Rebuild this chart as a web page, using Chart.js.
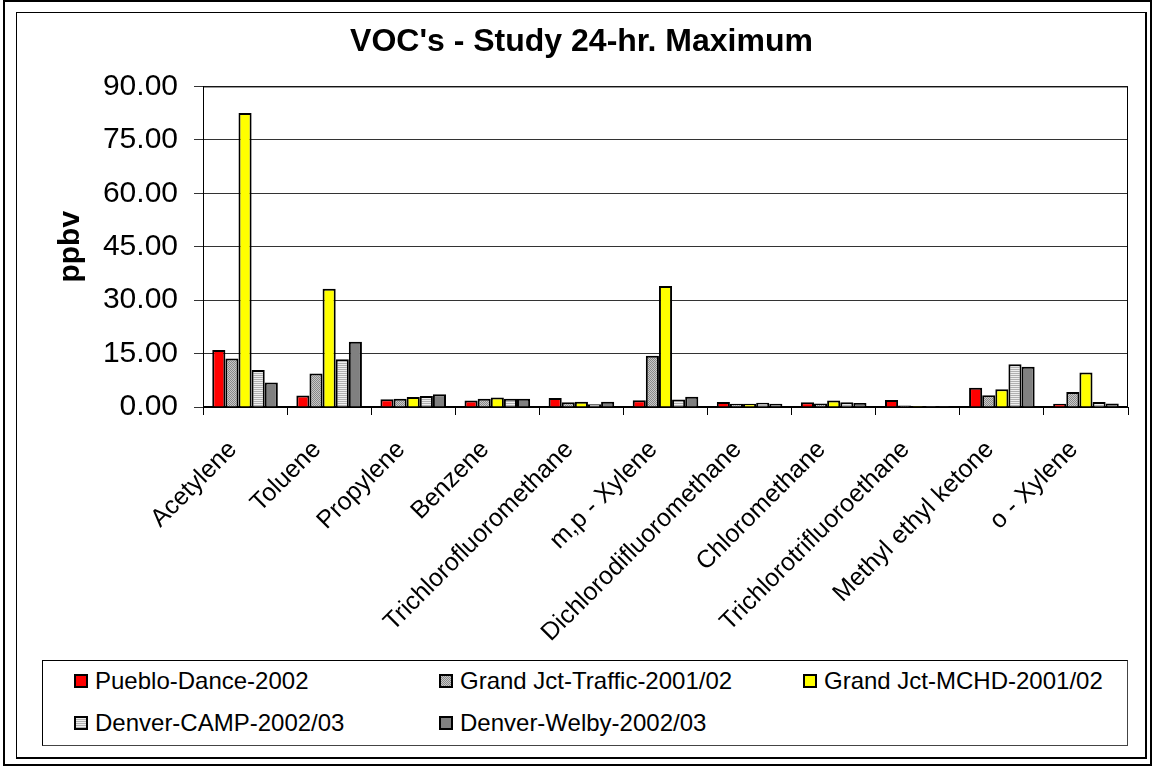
<!DOCTYPE html>
<html lang="en">
<head>
    <meta charset="UTF-8">
    <title>VOC's - Study 24-hr. Maximum</title>
    <script src="https://cdn.jsdelivr.net/npm/chart.js"></script>
    <style>
        body { margin: 0; background: #fff; font-family: Arial, "Liberation Sans", sans-serif; }
        #outer { position: absolute; left: 3px; top: 0; width: 1145px; height: 762px; border: 2px solid #000; }
        #inner { position: absolute; left: 16px; top: 12px; width: 1128px; height: 744px; border: 1px solid #000; border-right-width: 2px; border-bottom-width: 2px; }
        #vocChart { position: absolute; left: 0; top: 0; }
        #legend { position: absolute; left: 42px; top: 660px; width: 1084px; height: 84px; border: 1px solid #000; border-right-color: #444; border-bottom-color: #444; background: #fff; }
        .item { position: absolute; font-size: 24px; line-height: 26px; color: #000; white-space: nowrap; }
        .sw { position: absolute; width: 10px; height: 10px; border: 2px solid #000; }
    </style>
</head>
<body>
    <div id="outer"></div>
    <div id="inner"></div>
    <canvas id="vocChart" width="1153" height="767"></canvas>
    <div id="legend"></div>

    <script>
        // compounds on the x axis
        const compounds = ['Acetylene', 'Toluene', 'Propylene', 'Benzene', 'Trichlorofluoromethane',
            'm,p - Xylene', 'Dichlorodifluoromethane', 'Chloromethane', 'Trichlorotrifluoroethane',
            'Methyl ethyl ketone', 'o - Xylene'];

        const siteNames = ['Pueblo-Dance-2002', 'Grand Jct-Traffic-2001/02', 'Grand Jct-MCHD-2001/02',
            'Denver-CAMP-2002/03', 'Denver-Welby-2002/03'];

        // ppbv
        const puebloDance = [16.0, 3.2, 2.2, 1.8, 2.5, 1.9, 1.4, 1.3, 2.0, 5.4, 0.9];
        const gjTraffic   = [13.6, 9.4, 2.3, 2.3, 1.3, 14.4, 0.9, 1.0, 0.4, 3.3, 4.2];
        const gjMchd      = [82.5, 33.2, 2.8, 2.7, 1.5, 34.0, 0.9, 1.8, 0.3, 5.0, 9.7];
        const denverCamp  = [10.4, 13.4, 3.1, 2.3, 0.8, 2.1, 1.2, 1.3, 0.3, 12.0, 1.4];
        const denverWelby = [6.9, 18.3, 3.6, 2.3, 1.5, 2.9, 0.9, 1.1, 0.3, 11.3, 1.0];

        const yTicks = [0, 15, 30, 45, 60, 75, 90];

        function makePattern(w, h, draw) {
            const c = document.createElement('canvas');
            c.width = w; c.height = h;
            draw(c.getContext('2d'));
            return c.getContext('2d').createPattern(c, 'repeat');
        }

        // stippled grey
        const dotted = makePattern(2, 2, function (g) {
            g.fillStyle = '#c8c8c8'; g.fillRect(0, 0, 2, 2);
            g.fillStyle = '#888888'; g.fillRect(0, 0, 1, 1); g.fillRect(1, 1, 1, 1);
        });
        // horizontal lines
        const striped = makePattern(1, 2, function (g) {
            g.fillStyle = '#eeeeee'; g.fillRect(0, 0, 1, 1);
            g.fillStyle = '#b0b0b0'; g.fillRect(0, 1, 1, 1);
        });

        const fills = ['#ff0000', dotted, '#ffff00', striped, '#808080'];
        const cssFills = ['#ff0000',
            'repeating-conic-gradient(#888 0 25%, #c8c8c8 0 50%) 0 0 / 2px 2px',
            '#ffff00',
            'repeating-linear-gradient(#eeeeee 0 1px, #b0b0b0 1px 2px)',
            '#808080'];
        const seriesData = [puebloDance, gjTraffic, gjMchd, denverCamp, denverWelby];

        // border round the plot area
        const plotBorder = {
            id: 'plotBorder',
            beforeDatasetsDraw(chart) {
                const { ctx, chartArea: a } = chart;
                ctx.save();
                ctx.strokeStyle = '#000';
                ctx.lineWidth = 1;
                ctx.strokeRect(a.left + 0.5, a.top + 0.5, a.right - a.left - 1, a.bottom - a.top - 1);
                ctx.restore();
            }
        };

        const ctx = document.getElementById('vocChart').getContext('2d');
        new Chart(ctx, {
            type: 'bar',
            data: {
                labels: compounds,
                datasets: siteNames.map(function (name, i) {
                    return {
                        label: name,
                        data: seriesData[i],
                        backgroundColor: fills[i],
                        borderColor: '#000',
                        borderWidth: 2,
                        categoryPercentage: 0.78,
                        barPercentage: 1.0
                    };
                })
            },
            options: {
                responsive: false,
                animation: false,
                layout: { padding: { left: 35, right: 25, top: 14, bottom: 112 } },
                plugins: {
                    legend: { display: false },
                    tooltip: { enabled: false },
                    title: {
                        display: true,
                        text: "VOC's - Study 24-hr. Maximum",
                        color: '#000',
                        font: { family: 'Arial, "Liberation Sans"', size: 32, weight: 'bold' },
                        padding: { top: 9, bottom: 25 }
                    }
                },
                scales: {
                    x: {
                        afterFit: function (s) { s.height = 248; },
                        grid: { offset: true, drawOnChartArea: false, color: '#000', tickLength: 8 },
                        border: { color: '#000' },
                        ticks: {
                            autoSkip: false, minRotation: 45, maxRotation: 45,
                            padding: 20, labelOffset: -12,
                            color: '#000',
                            font: { family: 'Arial, "Liberation Sans"', size: 25 }
                        }
                    },
                    y: {
                        min: 0, max: 90,
                        afterFit: function (s) { s.width = 168; },
                        afterBuildTicks: function (s) { s.ticks = yTicks.map(function (v) { return { value: v }; }); },
                        grid: { color: '#333', tickLength: 9 },
                        border: { color: '#000' },
                        ticks: {
                            padding: 16, color: '#000',
                            font: { family: 'Arial, "Liberation Sans"', size: 30 },
                            callback: function (v) { return Number(v).toFixed(2); }
                        },
                        title: {
                            display: true, text: 'ppbv', color: '#000',
                            font: { family: 'Arial, "Liberation Sans"', size: 30, weight: 'bold' },
                            padding: { top: 18, bottom: 0 }
                        }
                    }
                }
            },
            plugins: [plotBorder]
        });

        // legend box (three columns, two rows)
        const legendPos = [[74, 674], [439, 674], [803, 674], [74, 716], [439, 716]];
        const legend = document.getElementById('legend');
        siteNames.forEach(function (name, i) {
            const sw = document.createElement('div');
            sw.className = 'sw';
            sw.style.left = (legendPos[i][0] - 43) + 'px';
            sw.style.top = (legendPos[i][1] - 661) + 'px';
            sw.style.background = cssFills[i];
            legend.appendChild(sw);
            const t = document.createElement('div');
            t.className = 'item';
            t.textContent = name;
            t.style.left = (legendPos[i][0] + 21 - 43) + 'px';
            t.style.top = (legendPos[i][1] - 6 - 661) + 'px';
            legend.appendChild(t);
        });
    </script>
</body>
</html>
